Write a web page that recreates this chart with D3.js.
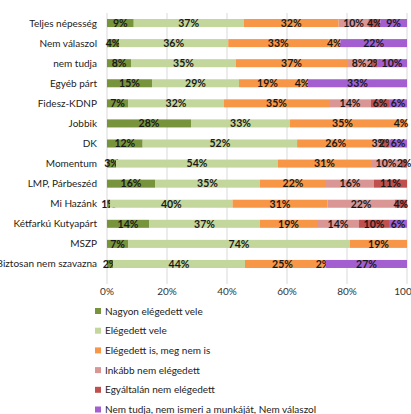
<!DOCTYPE html>
<html>
<head>
<meta charset="utf-8">
<script src="https://cdn.jsdelivr.net/npm/d3@7"></script>
<style>
  body { margin: 0; background: #fff; }
  svg { display: block; font-family: Lato, "Open Sans", sans-serif; }
</style>
</head>
<body>
<div id="chart"></div>
<script>
// 100% stacked bars, one row per party preference group

const categories = [
  "Teljes népesség", "Nem válaszol", "nem tudja", "Egyéb párt", "Fidesz-KDNP",
  "Jobbik", "DK", "Momentum", "LMP, Párbeszéd", "Mi Hazánk",
  "Kétfarkú Kutyapárt", "MSZP", "Biztosan nem szavazna"
];

const seriesNames = [
  "Nagyon elégedett vele",
  "Elégedett vele",
  "Elégedett is, meg nem is",
  "Inkább nem elégedett",
  "Egyáltalán nem elégedett",
  "Nem tudja, nem ismeri a munkáját, Nem válaszol"
];

// values per series, same order as categories
const nagyon      = [9, 4, 8, 15, 7, 28, 12, 3, 16, 1, 14, 7, 2];
const elegedett   = [37, 36, 35, 29, 32, 33, 52, 54, 35, 40, 37, 74, 44];
const semleges    = [32, 33, 37, 19, 35, 35, 26, 31, 22, 31, 19, 19, 25];
const inkabbNem   = [10, 4, 8, 4, 14, 4, 3, 10, 16, 22, 14, 0, 2];
const egyaltalan  = [4, 0, 2, 0, 6, 0, 2, 2, 11, 4, 10, 0, 0];
const nemTudja    = [9, 22, 10, 33, 6, 0, 6, 0, 0, 0, 6, 0, 27];

const xTicks = [0, 0.2, 0.4, 0.6, 0.8, 1];
const xTickLabels = ["0%", "20%", "40%", "60%", "80%", "100%"];

// in these rows the small "Inkább nem" piece is painted orange in the original
const orangeRows = ["Nem válaszol", "Egyéb párt", "Jobbik", "Biztosan nem szavazna"];

const colors = ["#77933c", "#c3d69b", "#f79646", "#d99694", "#c0504d", "#a35fd0"];

const width = 411, height = 414;
const svg = d3.select("#chart").append("svg")
  .attr("width", width).attr("height", height);

const rows = categories.map((c, i) => ({
  cat: c,
  s0: nagyon[i], s1: elegedett[i], s2: semleges[i],
  s3: inkabbNem[i], s4: egyaltalan[i], s5: nemTudja[i]
}));
const keys = ["s0", "s1", "s2", "s3", "s4", "s5"];

const stacked = d3.stack().keys(keys).offset(d3.stackOffsetExpand)(rows);

const x = d3.scaleLinear().domain([0, 1]).range([107, 407]);
const y = d3.scaleBand().domain(categories).range([13, 274]).paddingInner(0.6).paddingOuter(0.3);

// gridlines
svg.append("g").selectAll("line").data(xTicks).join("line")
  .attr("x1", d => x(d)).attr("x2", d => x(d))
  .attr("y1", 13).attr("y2", 284)
  .attr("stroke", "#d9d9d9").attr("stroke-width", 1);

// bars
const layers = svg.append("g").selectAll("g").data(stacked).join("g");
layers.selectAll("rect").data(d => d.map(v => ({ v, key: d.key, idx: d.index }))).join("rect")
  .attr("x", d => x(d.v[0]))
  .attr("width", d => Math.max(0, x(d.v[1]) - x(d.v[0])))
  .attr("y", d => y(d.v.data.cat))
  .attr("height", y.bandwidth())
  .attr("fill", d => (d.idx === 3 && orangeRows.includes(d.v.data.cat)) ? colors[2] : colors[d.idx]);

// value labels
layers.selectAll("text").data(d => d.map(v => ({ v, key: d.key })).filter(d => d.v.data[d.key] > 0)).join("text")
  .attr("x", d => (x(d.v[0]) + x(d.v[1])) / 2)
  .attr("y", d => y(d.v.data.cat) + y.bandwidth() / 2)
  .attr("dy", "0.36em")
  .attr("text-anchor", "middle")
  .attr("font-size", 10.5).attr("font-weight", "bold").attr("fill", "#1a1a1a")
  .text(d => d.v.data[d.key] + "%");

// category labels
svg.append("g").selectAll("text").data(categories).join("text")
  .attr("x", 97)
  .attr("y", d => y(d) + y.bandwidth() / 2)
  .attr("dy", "0.35em")
  .attr("text-anchor", "end")
  .attr("font-size", 10).attr("fill", "#222")
  .text(d => d);

// x tick labels
svg.append("g").selectAll("text").data(xTicks).join("text")
  .attr("x", d => x(d))
  .attr("y", 295)
  .attr("text-anchor", "middle")
  .attr("font-size", 10).attr("fill", "#333")
  .text((d, i) => xTickLabels[i]);

// legend
const legend = svg.append("g").selectAll("g").data(seriesNames).join("g")
  .attr("transform", (d, i) => `translate(95, ${311 + i * 19.7})`);
legend.append("rect")
  .attr("x", 0).attr("y", -3).attr("width", 6).attr("height", 6)
  .attr("fill", (d, i) => colors[i]);
legend.append("text")
  .attr("x", 10).attr("y", 0).attr("dy", "0.35em")
  .attr("font-size", 10).attr("fill", "#222")
  .text(d => d);
</script>
</body>
</html>
